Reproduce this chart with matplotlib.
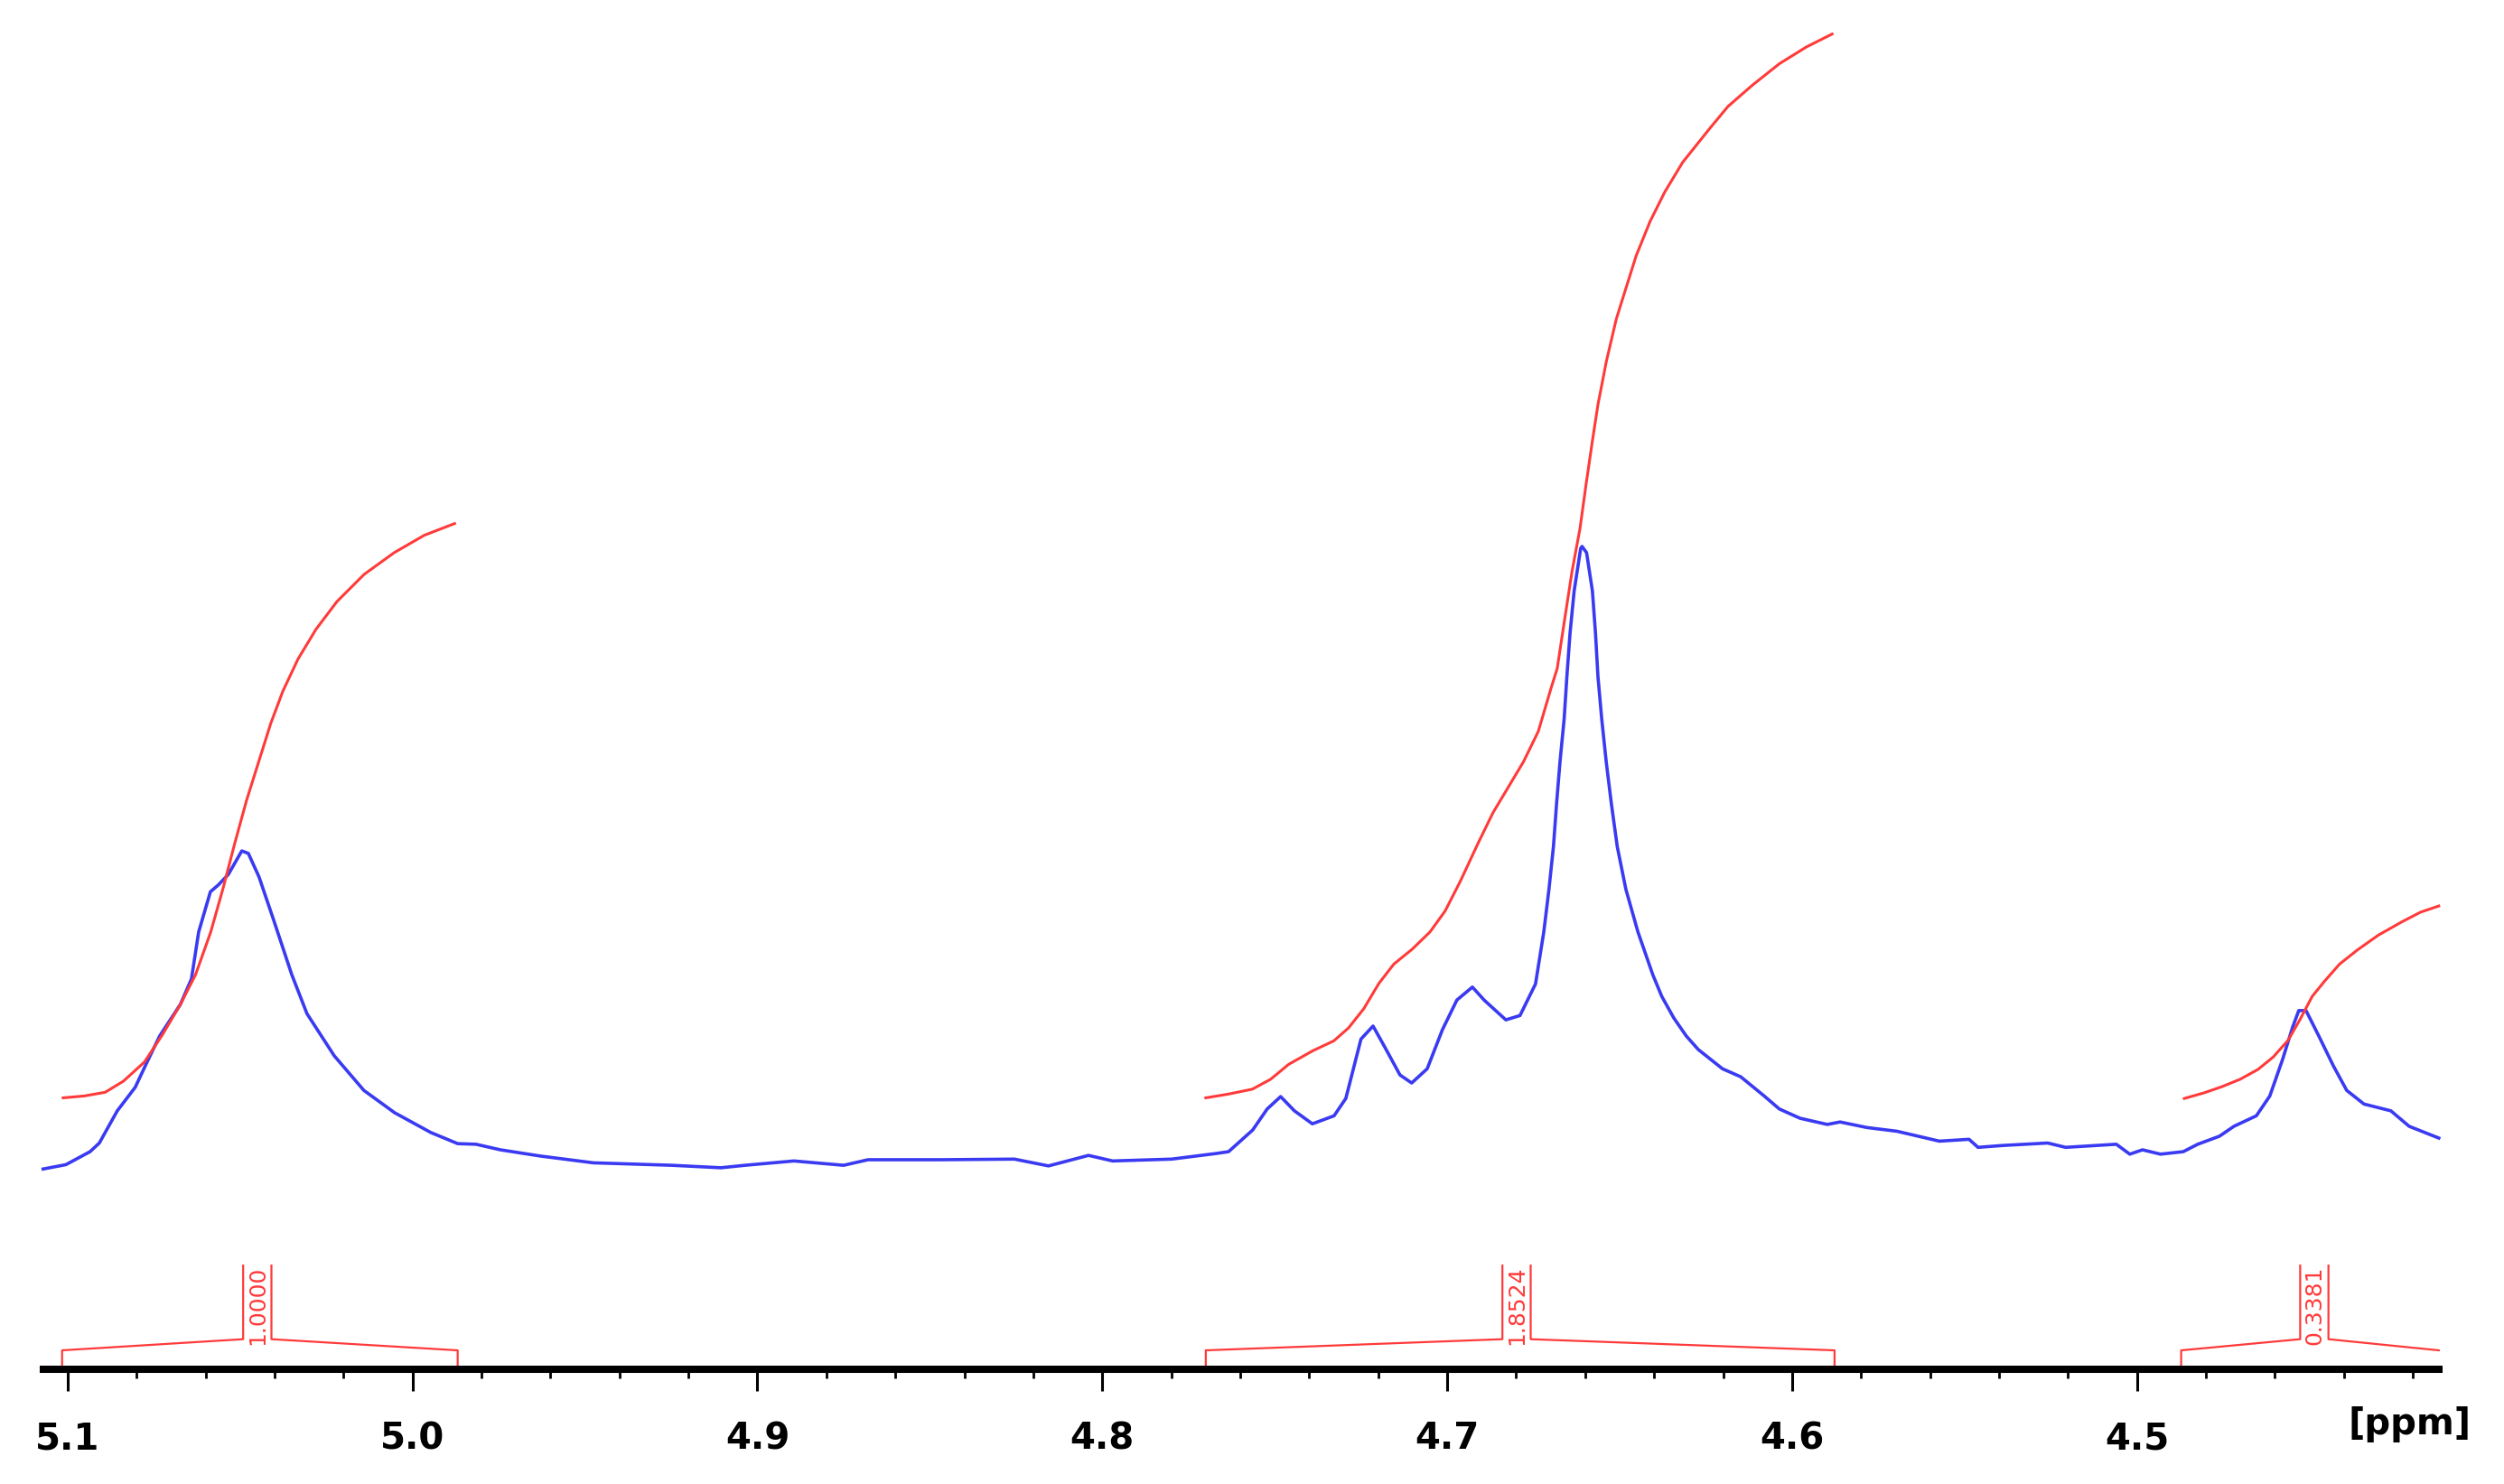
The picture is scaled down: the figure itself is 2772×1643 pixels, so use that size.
import matplotlib.pyplot as plt
import numpy as np

# 1H NMR trace (ppm, intensity with main peak = 100)
spec_ppm = [5.1071, 5.1005, 5.0935, 5.0908, 5.0856, 5.0804, 5.0772, 5.0733, 5.0673, 5.0641,
            5.0620, 5.0586, 5.0563, 5.0534, 5.0495, 5.0476, 5.0445, 5.0403, 5.0350, 5.0306,
            5.0227, 5.0141, 5.0052, 4.9947, 4.9869, 4.9816, 4.9745, 4.9630, 4.9476, 4.9248,
            4.9106, 4.9036, 4.8894, 4.8750, 4.8679, 4.8467, 4.8255, 4.8156, 4.8040, 4.7970,
            4.7799, 4.7671, 4.7634, 4.7564, 4.7522, 4.7483, 4.7443, 4.7391, 4.7328, 4.7294,
            4.7250, 4.7215, 4.7181, 4.7137, 4.7103, 4.7058, 4.7014, 4.6972, 4.6927, 4.6893,
            4.6830, 4.6789, 4.6744, 4.6720, 4.6705, 4.6692, 4.6683, 4.6673, 4.6661, 4.6653,
            4.6644, 4.6632, 4.6613, 4.6609, 4.6596, 4.6579, 4.6570, 4.6563, 4.6552, 4.6539,
            4.6524, 4.6507, 4.6482, 4.6447, 4.6404, 4.6378, 4.6343, 4.6307, 4.6272,
            4.6202, 4.6149, 4.6081, 4.6037, 4.5977, 4.5898, 4.5861, 4.5783, 4.5696, 4.5573,
            4.5487, 4.5461, 4.5390, 4.5259, 4.5207, 4.5060, 4.5021, 4.4984, 4.4932, 4.4866,
            4.4824, 4.4761, 4.4719, 4.4654, 4.4615, 4.4578, 4.4549, 4.4531, 4.4510, 4.4473,
            4.4431, 4.4392, 4.4342, 4.4264, 4.4211, 4.4125]
spec_int = [-0.6, 0.1, 2.2, 3.6, 8.8, 12.6, 16.4, 20.9, 26.0, 30.1,
            37.7, 44.2, 45.3, 47.0, 50.8, 50.4, 46.6, 39.7, 30.8, 24.5,
            17.7, 12.1, 8.5, 5.3, 3.5, 3.4, 2.5, 1.5, 0.4, 0.0,
            -0.4, 0.0, 0.7, 0.0, 0.9, 0.9, 1.0, -0.1, 1.6, 0.7,
            1.0, 1.9, 2.2, 5.7, 9.1, 11.1, 8.8, 6.7, 8.0, 10.8,
            20.4, 22.5, 19.1, 14.6, 13.3, 15.6, 21.9, 26.7, 28.8, 26.7,
            23.5, 24.2, 29.3, 37.7, 44.6, 51.5, 58.4, 65.2, 72.1, 79.0,
            85.9, 92.8, 99.7, 100.0, 99.0, 92.8, 85.9, 79.0, 72.1, 65.2,
            58.4, 51.5, 44.6, 37.7, 30.8, 27.3, 23.8, 20.9, 18.7,
            15.6, 14.3, 11.2, 9.1, 7.6, 6.6, 7.0, 6.1, 5.5, 3.9,
            4.2, 2.9, 3.2, 3.6, 2.9, 3.4, 1.8, 2.5, 1.8, 2.2,
            3.4, 4.7, 6.3, 8.0, 11.2, 17.1, 22.3, 25.0, 25.0, 20.9,
            16.1, 12.1, 9.9, 8.8, 6.3, 4.4]

# integral curves
int1_ppm = [5.1013, 5.0952, 5.0891, 5.0838, 5.0777, 5.0725, 5.0673, 5.0629, 5.0585, 5.0550,
            5.0515, 5.0481, 5.0446, 5.0411, 5.0376, 5.0332, 5.0280, 5.0219, 5.0140, 5.0053,
            4.9966, 4.9878]
int1_val = [10.9, 11.2, 11.8, 13.6, 16.7, 21.1, 26.0, 30.8, 37.7, 44.6,
            52.1, 59.0, 65.2, 71.4, 76.6, 81.8, 86.6, 91.1, 95.5, 99.0,
            101.8, 103.7]
int2_ppm = [4.7700, 4.7635, 4.7565, 4.7512, 4.7460, 4.7390, 4.7329, 4.7286, 4.7242, 4.7198,
            4.7155, 4.7102, 4.7050, 4.7006, 4.6962, 4.6910, 4.6867, 4.6823, 4.6779, 4.6736,
            4.6700, 4.6681, 4.6659, 4.6638, 4.6615, 4.6598, 4.6580, 4.6563, 4.6539, 4.6510,
            4.6491, 4.6452, 4.6412, 4.6369, 4.6317, 4.6238, 4.6186, 4.6116, 4.6037, 4.5959,
            4.5884]
int2_val = [10.9, 11.5, 12.3, 13.9, 16.3, 18.5, 20.1, 22.2, 25.3, 29.4,
            32.5, 34.9, 37.7, 41.1, 45.9, 52.1, 57.0, 61.1, 65.2, 70.1,
            76.9, 80.3, 88.4, 96.0, 102.9, 109.8, 116.7, 122.9, 129.8, 136.7,
            140.1, 147.0, 152.5, 157.3, 162.1, 167.6, 171.1, 174.5, 178.0, 180.7,
            182.8]
int3_ppm = [4.4863, 4.4806, 4.4754, 4.4701, 4.4649, 4.4605, 4.4562, 4.4527, 4.4492, 4.4457,
            4.4413, 4.4361, 4.4300, 4.4230, 4.4178, 4.4125]
int3_val = [10.8, 11.7, 12.7, 13.9, 15.5, 17.5, 20.2, 23.6, 27.3, 29.7,
            32.5, 34.8, 37.2, 39.4, 40.9, 41.9]

# integration regions
region_start = [5.1016, 4.7700, 4.4872]
region_end = [4.9869, 4.5877, 4.4125]
region_mid = [5.0450, 4.6799, 4.4486]
region_labels = ["1.0000", "1.8524", "0.3381"]

major_ticks = [5.1, 5.0, 4.9, 4.8, 4.7, 4.6, 4.5]

blue = "#3a3af2"
red = "#ff3a3a"

fig = plt.figure(figsize=(13.86, 8.215), dpi=200)
ax = fig.add_axes([0, 0, 1, 1])
ax.set_xlim(5.1196, 4.3936)
ax.set_ylim(-51.5, 188.3)

ax.plot(spec_ppm, spec_int, color=blue, lw=1.3, solid_joinstyle="round")
for xs, ys in [(int1_ppm, int1_val), (int2_ppm, int2_val), (int3_ppm, int3_val)]:
    ax.plot(xs, ys, color=red, lw=1.1, solid_joinstyle="round")

# axis line at the bottom
axis_y = -33.0
for side in ["left", "right", "top"]:
    ax.spines[side].set_visible(False)
ax.spines["bottom"].set_position(("data", axis_y))
ax.spines["bottom"].set_bounds(4.4125, 5.1071)
ax.spines["bottom"].set_linewidth(2.9)
ax.set_yticks([])
ax.set_xticks(major_ticks)
ax.set_xticklabels([f"{t:.1f}" for t in major_ticks], fontweight="bold")
ax.set_xticks(np.round(np.arange(4.42, 5.1, 0.02), 2), minor=True)
ax.tick_params(axis="x", which="major", direction="out", length=8.6, width=1.1,
               pad=12, labelsize=14.5)
ax.tick_params(axis="x", which="minor", direction="out", length=3.5, width=1.0)
ax.text(4.4209, -41.8, "[ppm]", fontsize=14.5, fontweight="bold", ha="center", va="center")

# integral brackets
leg_top, join_y, box_top, half = -29.9, -28.1, -16.2, 0.0041
for i in range(3):
    s, e, m = region_start[i], region_end[i], region_mid[i]
    ax.plot([s, s, m + half, m + half], [axis_y, leg_top, join_y, box_top], color=red, lw=0.8)
    right_y = [box_top, join_y, leg_top, axis_y] if i < 2 else [box_top, join_y, leg_top]
    right_x = [m - half, m - half, e, e][:len(right_y)]
    ax.plot(right_x, right_y, color=red, lw=0.8)
    ax.text(m, -22.6, region_labels[i], color=red, fontsize=9, rotation=90,
            ha="center", va="center")

fig.savefig("out.png", dpi=200)
